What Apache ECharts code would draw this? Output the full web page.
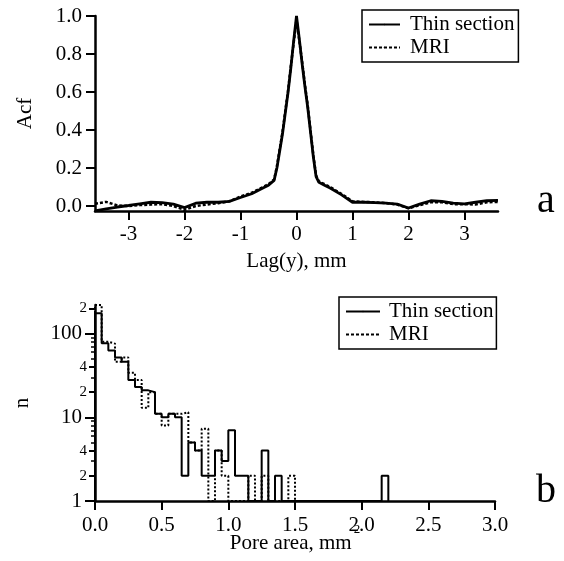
<!DOCTYPE html>
<html><head><meta charset="utf-8">
<script src="https://cdn.jsdelivr.net/npm/echarts@6/dist/echarts.min.js"></script>
<style>html,body{margin:0;padding:0;background:#fff}#c{width:564px;height:561px}</style>
</head><body><div id="c"></div>
<script>
// ---- Panel a: autocorrelation ----
const lag = [-3.6,-3.4,-3.2,-3.0,-2.8,-2.6,-2.4,-2.2,-2.0,-1.8,-1.6,-1.4,-1.2,-1.0,-0.8,-0.6,-0.5,-0.4,-0.35,-0.3,-0.25,-0.2,-0.15,-0.1,-0.05,0,0.05,0.1,0.15,0.2,0.25,0.3,0.35,0.4,0.5,0.6,0.8,1.0,1.2,1.4,1.6,1.8,2.0,2.2,2.4,2.6,2.8,3.0,3.2,3.4,3.6];
const acfThin = [-0.025,-0.015,-0.005,0.003,0.012,0.02,0.018,0.01,-0.008,0.015,0.02,0.02,0.025,0.045,0.065,0.095,0.11,0.135,0.2,0.29,0.38,0.49,0.6,0.73,0.87,1.0,0.88,0.75,0.63,0.52,0.39,0.26,0.155,0.125,0.11,0.095,0.06,0.02,0.02,0.018,0.015,0.01,-0.01,0.01,0.028,0.025,0.015,0.012,0.02,0.028,0.03];
const acfMRI = [0.012,0.022,0.003,0.0,0.005,0.008,0.01,0.0,-0.02,0.0,0.008,0.015,0.025,0.05,0.07,0.1,0.115,0.14,0.21,0.3,0.39,0.5,0.61,0.74,0.86,0.98,0.87,0.76,0.64,0.53,0.4,0.27,0.16,0.13,0.115,0.1,0.065,0.025,0.022,0.02,0.015,0.008,-0.012,0.005,0.02,0.02,0.01,0.01,0.008,0.02,0.022];
const lagTicks = [-3,-2,-1,0,1,2,3];
const acfTicks = [0,0.2,0.4,0.6,0.8,1.0];

// ---- Panel b: pore area histogram (bin width 0.05 mm^2) ----
const binWidth = 0.05;
const poreThin = [175,77,63,52,46,28,23,21,20,11, 10,11,10,2,5,4,2,2,4,3, 7,2,2,1,1,4,1,2, 1,1,1,1,1,1,1,1,1,1,1,1,1,1,1, 2];
const poreMRI  = [220,80,76,46,52,34,28,13,20,11, 8,11,11,11.5,5,4,7.3,1,4,2, 1,1,1,2,1,2,1,1,1,2, 1,1,1,1,1,1,1,1,1,1,1,1];
const nMajor = [1,10,100];
const nMid = [2,4,20,40,200];
const nMinor = [3,5,6,7,8,9,30,50,60,70,80,90];

const FONT = 'Liberation Serif';
const black = '#000';

function steps(arr){
  const pts = [[0,1]];
  arr.forEach((v,i)=>pts.push([+(i*binWidth).toFixed(4), v]));
  pts.push([+(arr.length*binWidth).toFixed(4), 1]);
  return pts;
}

const chart = echarts.init(document.getElementById('c'), null, {renderer:'canvas'});
const axisLine = {show:true, onZero:false, lineStyle:{color:black, width:2.5}};
const tickStyle = {color:black, width:2};
const lbl = {color:black, fontFamily:FONT, fontSize:21};

chart.setOption({
  animation:false,
  backgroundColor:'#fff',
  textStyle:{fontFamily:FONT},
  title:[
    {text:'a', left:532, top:176, textStyle:{fontFamily:FONT, fontSize:40, fontWeight:'normal', color:black}},
    {text:'b', left:531, top:466, textStyle:{fontFamily:FONT, fontSize:40, fontWeight:'normal', color:black}}
  ],
  legend:[
    {data:['Thin section','MRI'], orient:'vertical', left:362, top:10, padding:[4,4,4,6], itemGap:2,
     itemWidth:31, itemHeight:2, borderColor:black, borderWidth:1.5, backgroundColor:'#fff',
     textStyle:{color:black, fontFamily:FONT, fontSize:21, padding:[0,0,0,5]}, selectedMode:false},
    {data:['Thin section','MRI'], orient:'vertical', left:339, top:297, padding:[4,3,4,6], itemGap:2,
     itemWidth:34, itemHeight:2, borderColor:black, borderWidth:1.5, backgroundColor:'#fff',
     textStyle:{color:black, fontFamily:FONT, fontSize:21, padding:[0,0,0,4]}, selectedMode:false}
  ],
  grid:[
    {left:95, top:16, width:403, height:195, outerBoundsMode:'none', containLabel:false},
    {left:95, top:305, width:400, height:196, outerBoundsMode:'none', containLabel:false}
  ],
  xAxis:[
    {type:'value', gridIndex:0, min:-3.6, max:3.6, axisLine, splitLine:{show:false},
     axisTick:{show:true, customValues:lagTicks, length:9, lineStyle:tickStyle},
     axisLabel:Object.assign({customValues:lagTicks, margin:13, formatter:v=>String(v)}, lbl),
     name:'Lag(y), mm', nameLocation:'middle', nameGap:40, nameMoveOverlap:false, nameTextStyle:lbl},
    {type:'value', gridIndex:1, min:0, max:3, interval:0.5, axisLine, splitLine:{show:false},
     axisTick:{show:true, length:9, lineStyle:tickStyle},
     axisLabel:Object.assign({margin:14, formatter:v=>v.toFixed(1)}, lbl),
     name:'{a|Pore area, mm}{s|2}', nameLocation:'middle', nameGap:22, nameMoveOverlap:false,
     nameTextStyle:{color:black, fontFamily:FONT, rich:{
       a:{fontFamily:FONT, fontSize:21, color:black, padding:[10,0,0,0]},
       s:{fontFamily:FONT, fontSize:13, color:black, verticalAlign:'top', padding:[0,0,0,2]}}}}
  ],
  yAxis:[
    {type:'value', gridIndex:0, min:-0.026, max:1.0, axisLine, splitLine:{show:false},
     axisTick:{show:true, customValues:acfTicks, length:9, lineStyle:tickStyle},
     axisLabel:Object.assign({customValues:acfTicks, margin:13, formatter:v=>v.toFixed(1)}, lbl),
     name:'Acf', nameLocation:'middle', nameGap:59, nameMoveOverlap:false, nameTextStyle:lbl},
    {type:'log', gridIndex:1, min:1, max:220, position:'left', axisLine, splitLine:{show:false},
     axisTick:{show:true, customValues:nMajor, length:10, lineStyle:tickStyle},
     axisLabel:Object.assign({customValues:nMajor, margin:13, formatter:v=>String(Math.round(v))}, lbl),
     name:'n', nameLocation:'middle', nameGap:62, nameMoveOverlap:false, nameTextStyle:lbl},
    {type:'log', gridIndex:1, min:1, max:220, position:'left', axisLine:{show:false}, splitLine:{show:false},
     axisTick:{show:true, customValues:nMid, length:6, lineStyle:tickStyle},
     axisLabel:{customValues:nMid, margin:8, color:black, fontFamily:FONT, fontSize:15,
       formatter:v=>String(Math.round(v))[0]}},
    {type:'log', gridIndex:1, min:1, max:220, position:'left', axisLine:{show:false}, splitLine:{show:false},
     axisTick:{show:true, customValues:nMinor, length:4, lineStyle:{color:black, width:1.5}},
     axisLabel:{show:false}}
  ],
  series:[
    {name:'Thin section', type:'line', xAxisIndex:0, yAxisIndex:0, symbol:'none',
     data:lag.map((x,i)=>[x, acfThin[i]]), lineStyle:{color:black, width:2.8}, itemStyle:{color:black}},
    {name:'MRI', type:'line', xAxisIndex:0, yAxisIndex:0, symbol:'none',
     data:lag.map((x,i)=>[x, acfMRI[i]]), lineStyle:{color:black, width:2.5, type:[3,2]}, itemStyle:{color:black}},
    {name:'Thin section', type:'line', xAxisIndex:1, yAxisIndex:1, symbol:'none', step:'end',
     data:steps(poreThin), lineStyle:{color:black, width:2}, itemStyle:{color:black}},
    {name:'MRI', type:'line', xAxisIndex:1, yAxisIndex:1, symbol:'none', step:'end',
     data:steps(poreMRI), lineStyle:{color:black, width:2, type:[2,2]}, itemStyle:{color:black}}
  ]
});
</script></body></html>
